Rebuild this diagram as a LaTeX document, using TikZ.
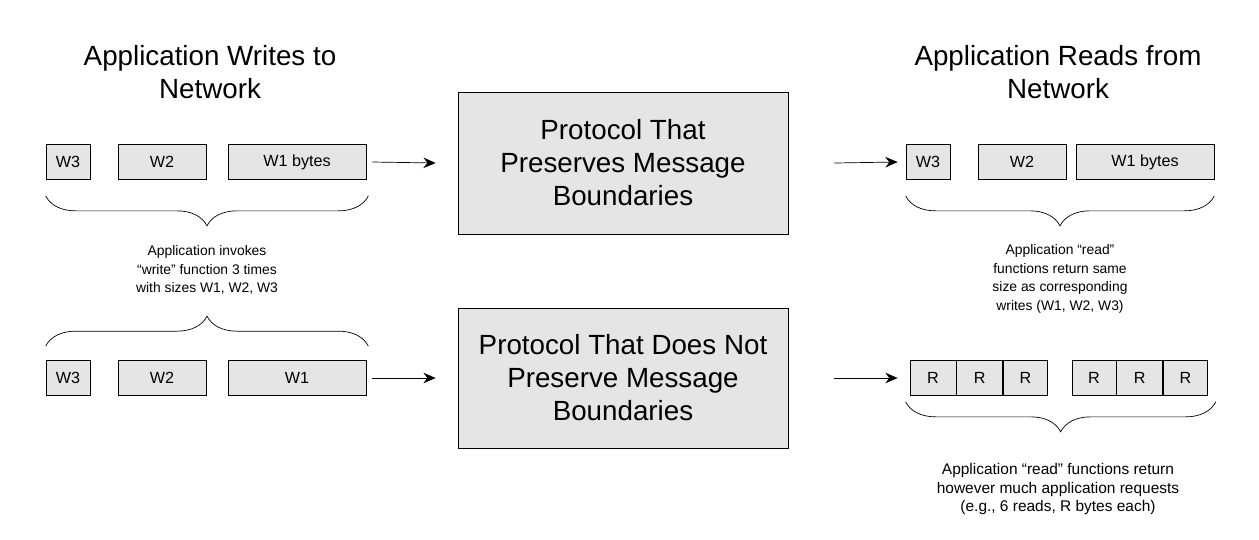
\documentclass[tikz,border=0pt]{standalone}
\usepackage{fontspec}
\setmainfont{Liberation Sans}
\usetikzlibrary{positioning,calc,arrows.meta,decorations.pathreplacing}
\tikzset{
  msg/.style={draw, fill=black!10, minimum height=0.7cm, inner sep=0pt, font=\fontsize{9.2}{11}\selectfont},
  proto/.style={draw, fill=black!10, minimum width=6.6cm, align=center, font=\fontsize{15.8}{18.8}\selectfont},
  title/.style={align=center, font=\fontsize{15.8}{18.8}\selectfont},
  note/.style={align=center, font=\fontsize{7.9}{10.6}\selectfont},
  brc/.style={decorate, decoration={brace, amplitude=0.6cm}},
  flow/.style={-{Stealth[length=7pt,width=6pt]}}
}
\begin{document}
\begin{tikzpicture}[x=0.02cm, y=-0.02cm]
\useasboundingbox (0,0) rectangle (1259,539);

% titles
\node (wtitle) [title] at (210,72) {Application Writes to\\Network};
\node (rtitle) [title] at (1058,72) {Application Reads from\\Network};

% top row, left
\node (tw3) [msg, minimum width=0.88cm] at (68,162) {W3};
\node (tw2) [msg, minimum width=1.76cm] at (162,162) {W2};
\node (tw1) [msg, minimum width=2.76cm] at (297,162) {W1 bytes};

\node (keep) [proto, minimum height=2.84cm] at (623,163) {Protocol That\\Preserves Message\\Boundaries};

% top row, right
\node (rw3) [msg, minimum width=0.88cm] at (928,162) {W3};
\node (rw2) [msg, minimum width=1.76cm] at (1022,162) {W2};
\node (rw1) [msg, minimum width=2.76cm] at (1145,162) {W1 bytes};

\draw [flow] ($(tw1.east)+(6,0)$) -- ($(keep.west)+(-22,0)$);
\draw [flow] ($(keep.east)+(46,0)$) -- ($(rw3.west)+(-8,0)$);

% bottom row, left
\node (bw3) [msg, minimum width=0.88cm] at (68,378) {W3};
\node (bw2) [msg, minimum width=1.76cm] at (162,378) {W2};
\node (bw1) [msg, minimum width=2.76cm] at (297,378) {W1};

\node (lose) [proto, minimum height=2.8cm] at (623,378) {Protocol That Does Not\\Preserve Message\\Boundaries};

% bottom row, right
\node (r1) [msg, minimum width=0.92cm] at (933,378) {R};
\node (r2) [msg, minimum width=0.92cm, right=0pt of r1] {R};
\node (r3) [msg, minimum width=0.88cm, right=0pt of r2] {R};
\node (r4) [msg, minimum width=0.88cm] at (1094,378) {R};
\node (r5) [msg, minimum width=0.92cm, right=0pt of r4] {R};
\node (r6) [msg, minimum width=0.88cm, right=0pt of r5] {R};

\draw [flow] ($(bw1.east)+(6,0)$) -- ($(lose.west)+(-22,0)$);
\draw [flow] ($(lose.east)+(46,0)$) -- ($(r1.west)+(-12,0)$);

% braces
\draw [brc] ($(tw1.south east)+(2,16)$) -- ($(tw3.south west)+(0,16)$);
\draw [brc] ($(bw3.north west)+(0,-14)$) -- ($(bw1.north east)+(2,-14)$);
\draw [brc] ($(rw1.south east)+(0,16)$) -- ($(rw3.south west)+(0,16)$);
\draw [brc] ($(r6.south east)+(8,6)$) -- ($(r1.south west)+(-4,6)$);

% notes
\node (wnote) [note] at (207,270) {Application invokes\\“write” function 3 times\\with sizes W1, W2, W3};
\node (rnote) [note] at (1060,279) {Application “read”\\functions return same\\size as corresponding\\writes (W1, W2, W3)};
\node (bnote) [note, font=\fontsize{8.8}{10.6}\selectfont] at (1058,489) {Application “read” functions return\\however much application requests\\(e.g., 6 reads, R bytes each)};
\end{tikzpicture}
\end{document}
